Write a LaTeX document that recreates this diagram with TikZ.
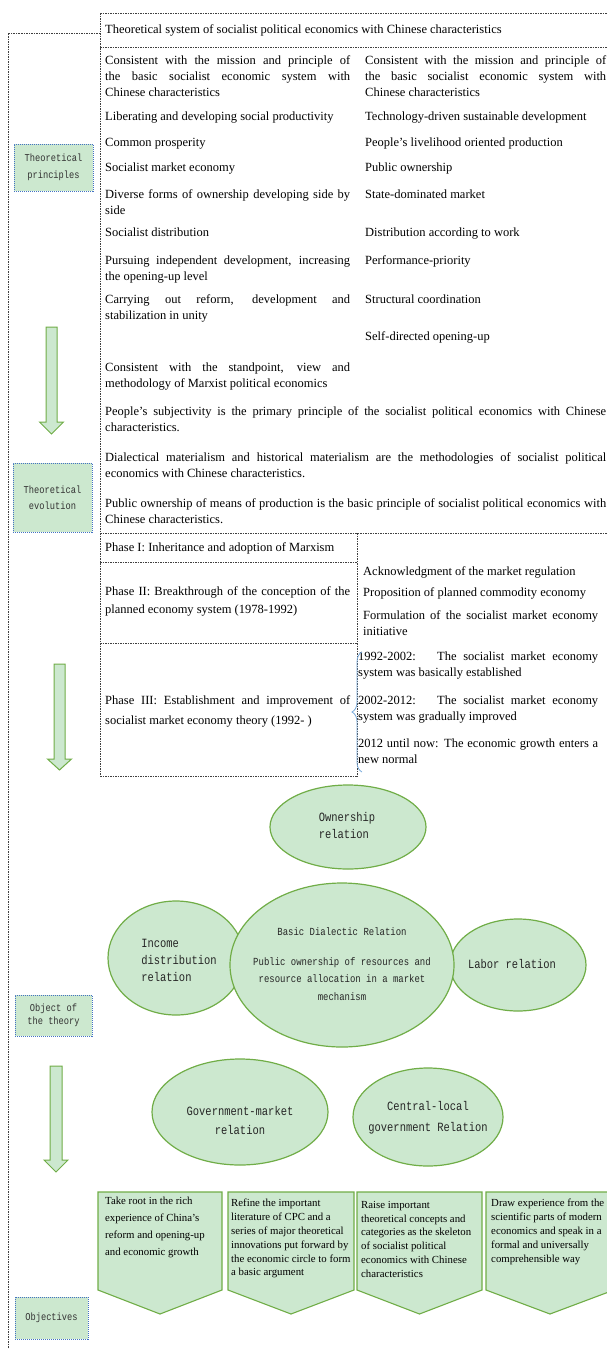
\documentclass[tikz,border=0pt]{standalone}
\usepackage{fontspec}
\setmainfont{Liberation Serif}
\newfontfamily\narrowmono[FakeStretch=0.83]{Liberation Mono}
\usetikzlibrary{decorations.pathreplacing}
\definecolor{softgreen}{RGB}{204,232,207}
\definecolor{leafgreen}{RGB}{112,173,71}
\definecolor{tagblue}{RGB}{68,114,196}
\definecolor{braceblue}{RGB}{120,170,220}
\definecolor{framegray}{RGB}{64,64,64}
\newcommand\bodysize{\fontsize{12.5}{16}\selectfont}
\tolerance=9999 \hyphenpenalty=10000 \exhyphenpenalty=10000

\begin{document}
\begin{tikzpicture}[x=1pt,y=-1pt,
    frame/.style={framegray,line width=0.7pt,dash pattern=on 1.5pt off 1pt},
    tag/.style={draw=tagblue,fill=softgreen,line width=0.9pt,dash pattern=on 1pt off 1pt,
      font=\narrowmono\fontsize{10.5}{17}\selectfont,text=black!80,align=center,inner sep=0pt},
    txt/.style={anchor=north west,inner sep=0pt,align=justify,font=\bodysize,execute at begin node=\strut},
    blob/.style={fill=softgreen,draw=leafgreen,line width=1.2pt},
    rel/.style={font=\narrowmono\fontsize{12.6}{17}\selectfont,text=black!85,inner sep=0pt},
    goal/.style={anchor=north west,inner sep=0pt,align=left,font=\fontsize{10.8}{13.8}\selectfont,execute at begin node=\strut}]
    \useasboundingbox (0,0) rectangle (606,1349);
    % frame lines
    \draw[frame] (100,33) -- (8,33) -- (8,1349);
    \draw[frame] (100,13) -- (612,13);
    \draw[frame] (100,47) -- (612,47);
    \draw[frame] (100,13) -- (100,776);
    \draw[frame] (100,533) -- (612,533);
    \draw[frame] (100,562) -- (357,562);
    \draw[frame] (100,643) -- (357,643);
    \draw[frame] (100,776) -- (357,776);
    \draw[frame] (357,533) -- (357,776);
    % heading
    \node[anchor=base west,inner sep=0pt,font=\bodysize] (heading) at (105,33.5)
      {Theoretical system of socialist political economics with Chinese characteristics};
    % principles, left column
    \node[txt,text width=245pt] (pl1) at (105,53) {Consistent with the mission and principle of\linebreak the basic socialist economic system with\linebreak Chinese characteristics};
    \node[txt,text width=245pt] (pl2) at (105,109) {Liberating and developing social productivity};
    \node[txt,text width=245pt] (pl3) at (105,135) {Common prosperity};
    \node[txt,text width=245pt] (pl4) at (105,160) {Socialist market economy};
    \node[txt,text width=245pt] (pl5) at (105,187) {Diverse forms of ownership developing side by\linebreak side};
    \node[txt,text width=245pt] (pl6) at (105,225) {Socialist distribution};
    \node[txt,text width=245pt] (pl7) at (105,253) {Pursuing independent development, increasing\linebreak the opening-up level};
    \node[txt,text width=245pt] (pl8) at (105,292) {Carrying out reform, development and\linebreak stabilization in unity};
    \node[txt,text width=245pt] (pl9) at (105,360) {Consistent with the standpoint, view and\linebreak methodology of Marxist political economics};
    % principles, right column
    \node[txt,text width=241pt] (pr1) at (365,53) {Consistent with the mission and principle of\linebreak the basic socialist economic system with\linebreak Chinese characteristics};
    \node[txt,text width=241pt] (pr2) at (365,109) {Technology-driven sustainable development};
    \node[txt,text width=241pt] (pr3) at (365,135) {People's livelihood oriented production};
    \node[txt,text width=241pt] (pr4) at (365,160) {Public ownership};
    \node[txt,text width=241pt] (pr5) at (365,187) {State-dominated market};
    \node[txt,text width=241pt] (pr6) at (365,225) {Distribution according to work};
    \node[txt,text width=241pt] (pr7) at (365,253) {Performance-priority};
    \node[txt,text width=241pt] (pr8) at (365,292) {Structural coordination};
    \node[txt,text width=241pt] (pr9) at (365,329) {Self-directed opening-up};
    % full width statements
    \node[txt,text width=501pt] (pf1) at (105,404) {People's subjectivity is the primary principle of the socialist political economics with Chinese\linebreak characteristics.};
    \node[txt,text width=501pt] (pf2) at (105,450) {Dialectical materialism and historical materialism are the methodologies of socialist political\linebreak economics with Chinese characteristics.};
    \node[txt,text width=501pt] (pf3) at (105,496) {Public ownership of means of production is the basic principle of socialist political economics with\linebreak Chinese characteristics.};
    % phases
    \node[anchor=base west,inner sep=0pt,font=\bodysize] (phase1) at (105,551) {Phase I: Inheritance and adoption of Marxism};
    \node[txt,text width=245pt,font=\fontsize{12.5}{18}\selectfont] (phase2) at (105,582.4) {Phase II: Breakthrough of the conception of the\linebreak planned economy system (1978-1992)};
    \node[txt,text width=245pt,font=\fontsize{12.5}{20}\selectfont] (phase3) at (105,690) {Phase III: Establishment and improvement of\linebreak socialist market economy theory (1992- )};
    \node[txt,text width=235pt] (ack) at (363,563.8) {Acknowledgment of the market regulation};
    \node[txt,text width=235pt] (prop) at (363,584.8) {Proposition of planned commodity economy};
    \node[txt,text width=235pt] (form) at (363,607.8) {Formulation of the socialist market economy\linebreak initiative};
    \node[txt,text width=240pt] (stageA) at (358,648.8) {1992-2002:\hspace{10pt} The socialist market economy\linebreak system was basically established};
    \node[txt,text width=240pt] (stageB) at (358,692.8) {2002-2012:\hspace{10pt} The socialist market economy\linebreak system was gradually improved};
    \node[txt,text width=240pt] (stageC) at (358,735.8) {2012 until now: The economic growth enters a\linebreak new normal};
    \draw[braceblue,line width=0.8pt,decorate,decoration={brace,amplitude=10pt}] (362,772) -- (362,652);
    % side tags
    \node[tag,minimum width=79pt,minimum height=47pt] (tagPrinciples) at (53.5,167.5) {Theoretical\\principles};
    \node[tag,minimum width=79pt,minimum height=69pt,font=\narrowmono\fontsize{10.5}{16}\selectfont] (tagEvolution) at (52.5,497.5) {Theoretical\\evolution};
    \node[tag,minimum width=77pt,minimum height=41pt,font=\narrowmono\fontsize{10.5}{13}\selectfont] (tagObject) at (53.5,1015.5) {Object of\\the theory};
    \node[tag,minimum width=73pt,minimum height=42pt] (tagGoals) at (51.5,1318) {Objectives};
    % block arrows
    \filldraw[blob,line width=1pt] (46,327) -- (57,327) -- (57,422) -- (63.5,422) -- (51.5,434) -- (39.5,422) -- (46,422) -- cycle;
    \filldraw[blob,line width=1pt] (54,664) -- (65,664) -- (65,759) -- (71.5,759) -- (59.5,770) -- (47.5,759) -- (54,759) -- cycle;
    \filldraw[blob,line width=1pt] (50,1066) -- (62,1066) -- (62,1160) -- (68,1160) -- (56,1172) -- (44,1160) -- (50,1160) -- cycle;
    % relation ellipses
    \filldraw[blob] (176,958) ellipse [x radius=68pt,y radius=57pt];
    \filldraw[blob] (518,965) ellipse [x radius=68pt,y radius=46pt];
    \filldraw[blob] (342,965) ellipse [x radius=112pt,y radius=82pt];
    \filldraw[blob] (348,827) ellipse [x radius=78pt,y radius=42pt];
    \filldraw[blob] (240,1112) ellipse [x radius=88pt,y radius=53pt];
    \filldraw[blob] (428,1117) ellipse [x radius=75pt,y radius=49pt];
    \node[rel,align=left] (ownership) at (347,825) {Ownership\\relation};
    \node[rel,align=left] (income) at (179,960) {Income\\distribution\\relation};
    \node[rel,align=center,font=\narrowmono\fontsize{10.8}{17.5}\selectfont] (dialectic) at (342,964)
      {Basic Dialectic Relation\\[12.5pt]Public ownership of resources and\\resource allocation in a market\\mechanism};
    \node[rel] (labor) at (512,964) {Labor relation};
    \node[rel,align=center,font=\narrowmono\fontsize{12.6}{19}\selectfont] (govmarket) at (240,1120) {Government-market\\relation};
    \node[rel,align=center,font=\narrowmono\fontsize{12.6}{21}\selectfont] (central) at (428,1118) {Central-local\\government Relation};
    % objectives
    \filldraw[blob,line width=1.1pt] (98,1192) -- (222,1192) -- (222,1290) -- (160,1314) -- (98,1290) -- cycle;
    \filldraw[blob,line width=1.1pt] (228,1192) -- (354,1192) -- (354,1290) -- (291,1314) -- (228,1290) -- cycle;
    \filldraw[blob,line width=1.1pt] (357,1192) -- (482,1192) -- (482,1290) -- (419.5,1314) -- (357,1290) -- cycle;
    \filldraw[blob,line width=1.1pt] (486,1192) -- (614,1192) -- (614,1290) -- (550,1314) -- (486,1290) -- cycle;
    \node[goal,font=\fontsize{10.8}{17}\selectfont] (goal1) at (105,1196.5) {Take root in the rich\\experience of China's\\reform and opening-up\\and economic growth};
    \node[goal] (goal2) at (231,1199) {Refine the important\\literature of CPC and a\\series of major theoretical\\innovations put forward by\\the economic circle to form\\a basic argument};
    \node[goal] (goal3) at (361,1201) {Raise important\\theoretical concepts and\\categories as the skeleton\\of socialist political\\economics with Chinese\\characteristics};
    \node[goal] (goal4) at (491,1199) {Draw experience from the\\scientific parts of modern\\economics and speak in a\\formal and universally\\comprehensible way};
\end{tikzpicture}
\end{document}
